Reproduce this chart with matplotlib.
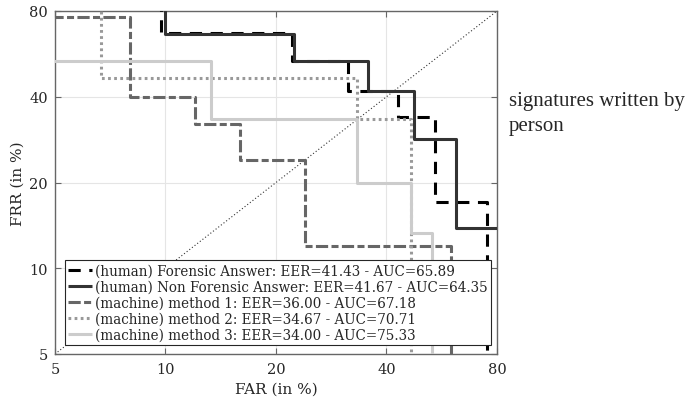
import numpy as np
import matplotlib
matplotlib.use("Agg")
import matplotlib.pyplot as plt

plt.rcParams['font.family'] = ['DejaVu Serif']

# ---- data (FAR / FRR in %), step corners ----
forensic_far = [0, 9.7, 22.1, 31.4, 42.9, 54.3, 75.0]
forensic_frr = [100, 67.0, 53.6, 42.0, 34.0, 17.1, 0]

nonforensic_far = [0, 10.0, 22.4, 35.6, 47.6, 61.7, 100]
nonforensic_frr = [100, 66.5, 53.6, 42.0, 28.4, 13.8, 13.8]

m1_far = [0, 8.0, 12.0, 16.0, 24.0, 60.0]
m1_frr = [76.0, 40.0, 32.0, 24.0, 12.0, 0]

m2_far = [0, 6.67, 33.33, 46.67]
m2_frr = [100, 46.67, 33.33, 0]

m3_far = [0, 13.33, 33.33, 46.67, 53.33]
m3_frr = [53.33, 33.33, 20.0, 13.33, 0]

labels = ["(human) Forensic Answer: EER=41.43 - AUC=65.89",
          "(human) Non Forensic Answer: EER=41.67 - AUC=64.35",
          "(machine) method 1: EER=36.00 - AUC=67.18",
          "(machine) method 2: EER=34.67 - AUC=70.71",
          "(machine) method 3: EER=34.00 - AUC=75.33"]

ticks = [5, 10, 20, 40, 80]
tick_labels = ["5", "10", "20", "40", "80"]

fig = plt.figure(figsize=(6.91, 4.02), dpi=100)
ax = fig.add_axes([55/691, 47/402, 442/691, 343/402])
ax.set_xscale('log')
ax.set_yscale('log')

def clip(v):
    return np.clip(np.asarray(v, float), 0.5, 200)

LW = 2.2
styles = [
    dict(color='black', ls=(0, (4, 2.8)), lw=LW),
    dict(color='#333333', ls='-', lw=LW),
    dict(color='#666666', ls=(0, (4.0, 1.1, 2.3, 1.1)), lw=LW),
    dict(color='#999999', ls=(0, (0.9, 1.1)), lw=LW),
    dict(color='#cccccc', ls='-', lw=LW),
]
series = [(forensic_far, forensic_frr), (nonforensic_far, nonforensic_frr),
          (m1_far, m1_frr), (m2_far, m2_frr), (m3_far, m3_frr)]

# diagonal
ax.plot([5, 80], [5, 80], color='#333333', ls=(0, (1, 2)), lw=0.8, zorder=2)

handles = []
for (fx, fy), st, lab in zip(series, styles, labels):
    h, = ax.plot(clip(fx), clip(fy), drawstyle='steps-post', label=lab,
                 solid_capstyle='butt', dash_capstyle='butt', zorder=3, **st)
    handles.append(h)

ax.set_xlim(5, 80)
ax.set_ylim(5, 80)
ax.set_xticks(ticks)
ax.set_xticklabels(tick_labels)
ax.set_yticks(ticks)
ax.set_yticklabels(tick_labels)
ax.minorticks_off()
ax.tick_params(which='both', direction='in', top=True, right=True, length=4,
               width=0.8, color='#666666', labelsize=10.5, labelcolor='#262626')
ax.tick_params(axis='x', pad=6)
ax.tick_params(axis='y', pad=5)
ax.grid(True, color='#e5e5e5', lw=0.8, zorder=0)
ax.set_axisbelow(True)
for sp in ax.spines.values():
    sp.set_color('#666666')
    sp.set_linewidth(1.0)

ax.set_xlabel("FAR (in %)", fontsize=11, color='#262626', labelpad=4)
ax.set_ylabel("FRR (in %)", fontsize=11, color='#262626', labelpad=3)

leg = ax.legend(handles=handles, loc='lower left', bbox_to_anchor=(10/442, 9/343),
                borderaxespad=0, fontsize=9.75, handlelength=1.75, handletextpad=0.2,
                labelspacing=0.15, borderpad=0.25, fancybox=False, framealpha=1,
                edgecolor='#262626')
leg.get_frame().set_linewidth(0.8)
for t in leg.get_texts():
    t.set_color('#262626')

fig.text(509/691, 1 - 92/402, "signatures written by\nperson", fontsize=15,
         family='Liberation Serif', color='#262626', va='top', ha='left',
         linespacing=1.4)

fig.savefig("out.png", dpi=100)
